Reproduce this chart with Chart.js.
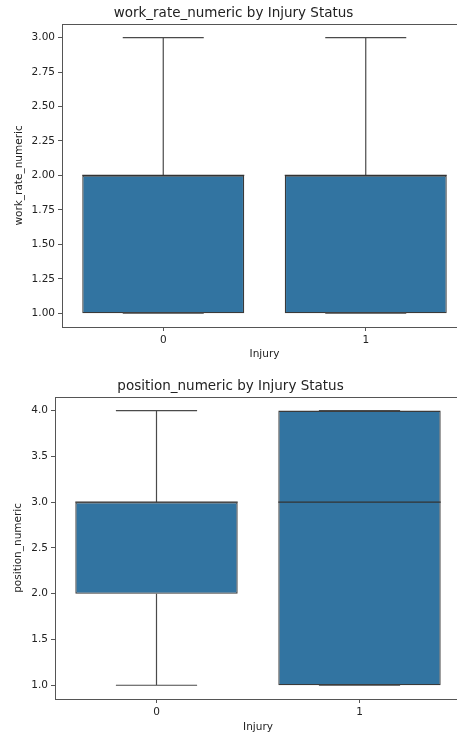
<!DOCTYPE html>
<html>
<head>
<meta charset="utf-8">
<script src="https://cdn.jsdelivr.net/npm/chart.js@4"></script>
<style>
  html, body { margin: 0; padding: 0; background: #fff; overflow: hidden; width: 457px; height: 735px; }
  canvas { position: absolute; left: 0; }
  #top { top: 0; }
  #bottom { top: 368px; }
</style>
</head>
<body>
<canvas id="top" width="480" height="368"></canvas>
<canvas id="bottom" width="480" height="367"></canvas>
<script>
var categories = ['0', '1'];

// work_rate_numeric box stats
var workMin = [1, 1];
var workQ1 = [1, 1];
var workMed = [2, 2];
var workQ3 = [2, 2];
var workMax = [3, 3];
var workTicks = [1.00, 1.25, 1.50, 1.75, 2.00, 2.25, 2.50, 2.75, 3.00];

// position_numeric box stats
var posMin = [1, 1];
var posQ1 = [2, 1];
var posMed = [3, 3];
var posQ3 = [3, 4];
var posMax = [4, 4];
var posTicks = [1.0, 1.5, 2.0, 2.5, 3.0, 3.5, 4.0];

var FONT = 'DejaVu Sans';
var TXT = '#222';

// whiskers, caps, medians drawn from the bar elements and y scale
var boxExtras = {
    id: 'boxExtras',
    afterDatasetsDraw: function (chart, args, opts) {
        var ctx = chart.ctx;
        var y = chart.scales.y;
        var bars = chart.getDatasetMeta(0).data;
        ctx.save();
        bars.forEach(function (bar, i) {
            var x = bar.x, w = bar.width;
            ctx.strokeStyle = '#4a4a4a';
            ctx.lineWidth = 1.2;
            ctx.beginPath();
            if (opts.max[i] > opts.q3[i]) {
                ctx.moveTo(x, y.getPixelForValue(opts.q3[i]));
                ctx.lineTo(x, y.getPixelForValue(opts.max[i]));
            }
            ctx.moveTo(x - w / 4, y.getPixelForValue(opts.max[i]));
            ctx.lineTo(x + w / 4, y.getPixelForValue(opts.max[i]));
            if (opts.min[i] < opts.q1[i]) {
                ctx.moveTo(x, y.getPixelForValue(opts.q1[i]));
                ctx.lineTo(x, y.getPixelForValue(opts.min[i]));
            }
            ctx.moveTo(x - w / 4, y.getPixelForValue(opts.min[i]));
            ctx.lineTo(x + w / 4, y.getPixelForValue(opts.min[i]));
            ctx.stroke();
            // median
            ctx.strokeStyle = '#333';
            ctx.beginPath();
            ctx.moveTo(x - w / 2, y.getPixelForValue(opts.med[i]));
            ctx.lineTo(x + w / 2, y.getPixelForValue(opts.med[i]));
            ctx.stroke();
        });
        ctx.restore();
    },
    afterDraw: function (chart) {
        var a = chart.chartArea, ctx = chart.ctx;
        ctx.save();
        ctx.strokeStyle = '#555';
        ctx.lineWidth = 1;
        ctx.strokeRect(Math.round(a.left) + 0.5, Math.round(a.top) + 0.5,
            Math.round(a.right - a.left), Math.round(a.bottom - a.top));
        ctx.restore();
    }
};

function makeBox(id, cfg) {
    var ctx = document.getElementById(id).getContext('2d');
    return new Chart(ctx, {
        type: 'bar',
        data: {
            labels: categories,
            datasets: [{
                data: categories.map(function (c, i) { return [cfg.q1[i], cfg.q3[i]]; }),
                backgroundColor: '#3274a1',
                borderColor: '#3a3a3a',
                borderWidth: 1.3,
                borderSkipped: false,
                barPercentage: 0.8,
                categoryPercentage: 1.0
            }]
        },
        options: {
            responsive: false,
            animation: false,
            layout: { padding: { right: cfg.padRight, left: 0, top: 0, bottom: 0 } },
            plugins: {
                legend: { display: false },
                tooltip: { enabled: false },
                title: {
                    display: true,
                    text: cfg.title,
                    color: TXT,
                    font: { family: FONT, size: 13.5, weight: 'normal', lineHeight: 1.1 },
                    padding: cfg.titlePad
                },
                boxExtras: { min: cfg.min, q1: cfg.q1, med: cfg.med, q3: cfg.q3, max: cfg.max }
            },
            scales: {
                x: {
                    offset: true,
                    grid: { display: true, drawOnChartArea: false, drawTicks: true, tickLength: 4, offset: false, color: '#555' },
                    border: { display: false },
                    ticks: { color: TXT, font: { family: FONT, size: 10.5 }, padding: 3 },
                    title: { display: true, text: 'Injury', color: TXT, font: { family: FONT, size: 10.5 }, padding: { top: 0, bottom: cfg.xTitlePad } },
                    afterFit: function (s) { s.height = cfg.xHeight; }
                },
                y: {
                    min: cfg.yMin,
                    max: cfg.yMax,
                    afterBuildTicks: function (s) { s.ticks = cfg.ticks.map(function (v) { return { value: v }; }); },
                    grid: { display: true, drawOnChartArea: false, drawTicks: true, tickLength: 4, color: '#555' },
                    border: { display: false },
                    ticks: {
                        color: TXT,
                        font: { family: FONT, size: 10.5 },
                        padding: 3,
                        callback: function (v) { return Number(v).toFixed(cfg.decimals); }
                    },
                    title: { display: true, text: cfg.yTitle, color: TXT, font: { family: FONT, size: 10.5 }, padding: { top: cfg.yTitlePad, bottom: 0 } },
                    afterFit: function (s) { s.width = cfg.yWidth; }
                }
            }
        },
        plugins: [boxExtras]
    });
}

makeBox('top', {
    title: 'work_rate_numeric by Injury Status',
    yTitle: 'work_rate_numeric',
    min: workMin, q1: workQ1, med: workMed, q3: workQ3, max: workMax,
    ticks: workTicks, decimals: 2, yMin: 0.9, yMax: 3.1,
    padRight: 13, titlePad: { top: 6, bottom: 3 },
    xHeight: 41, xTitlePad: 7, yWidth: 62, yTitlePad: 13
});

makeBox('bottom', {
    title: 'position_numeric by Injury Status',
    yTitle: 'position_numeric',
    min: posMin, q1: posQ1, med: posMed, q3: posQ3, max: posMax,
    ticks: posTicks, decimals: 1, yMin: 0.85, yMax: 4.15,
    padRight: 19, titlePad: { top: 11, bottom: 3 },
    xHeight: 36, xTitlePad: 1, yWidth: 55, yTitlePad: 12
});
</script>
</body>
</html>
